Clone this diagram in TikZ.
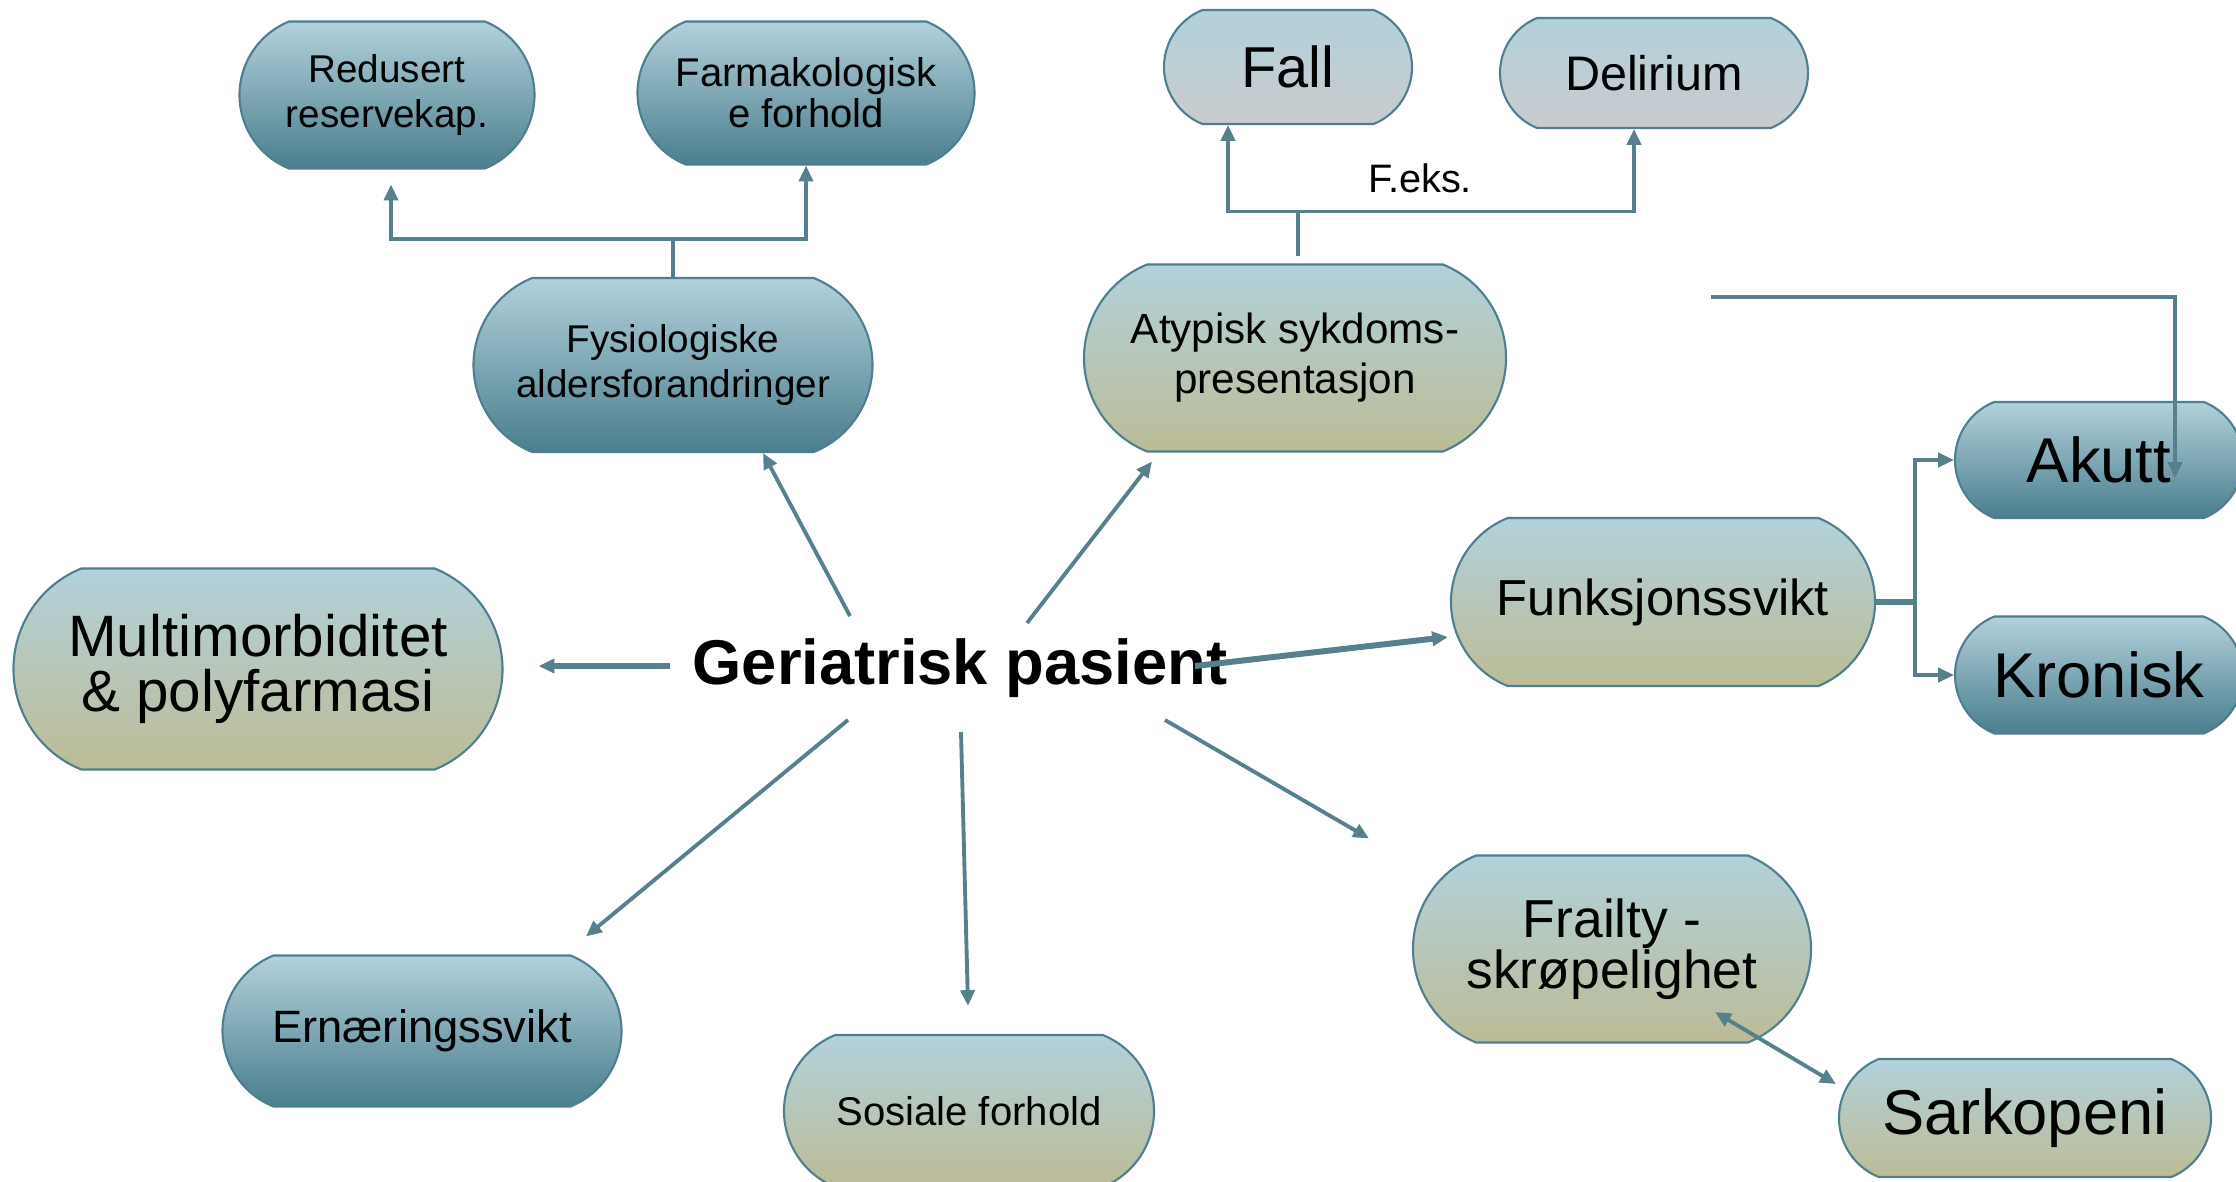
\documentclass[tikz,border=0pt]{standalone}
\usepackage{fontspec}
\setmainfont{Liberation Sans}
\usetikzlibrary{shapes.misc,arrows.meta}

\definecolor{pilltop}{HTML}{B2D1DB}
\definecolor{tealbot}{HTML}{4A7E8E}
\definecolor{olivebot}{HTML}{BCBC96}
\definecolor{greybot}{HTML}{CACBCD}
\definecolor{rimcol}{HTML}{4F7F8E}
\definecolor{linkcol}{HTML}{55808C}

\tikzset{
  pill/.style={rounded rectangle, rounded rectangle arc length=136, draw=rimcol,
    line width=0.6pt, inner sep=0pt, align=center, top color=pilltop},
  link/.style={draw=linkcol, line width=1.1pt},
  fatlink/.style={draw=linkcol, line width=1.7pt},
  >={Triangle[length=4.5pt,width=4pt]}
}

\begin{document}
\begin{tikzpicture}[x=0.01cm, y=-0.01cm]
  \useasboundingbox (0,0) rectangle (2236,1182);

  % boxes: name/x/y/width/height/shade/size/skip/text
  \foreach \nm/\cx/\cy/\w/\h/\col/\fs/\bs/\txt in {
      red/387/95/295/147/tealbot/11/13/{Redusert\\reservekap.},
      farm/806/93/337/143/tealbot/11.4/10.5/{Farmakologisk\\e forhold},
      fys/673/365/399/174/tealbot/11/13/{Fysiologiske\\aldersforandringer},
      fall/1288/67/248/114/greybot/16.4/18/{Fall},
      deli/1654/73/308/110/greybot/13.8/16/{Delirium},
      aty/1295/358/422/187/olivebot/12/14.2/{Atypisk sykdoms-\\presentasjon},
      akutt/2099/460/288/116/tealbot/18/20/{Akutt},
      kron/2099/675/288/117/tealbot/18/20/{Kronisk},
      funk/1663/602/424/168/olivebot/14.4/16/{Funksjonssvikt},
      mult/258/669/489/201/olivebot/16.6/15.8/{Multimorbiditet\\\& polyfarmasi},
      ern/422/1031/399/151/tealbot/12.9/15/{Ernæringssvikt},
      sos/969/1111/370/152/olivebot/11.4/13/{Sosiale forhold},
      frail/1612/949/398/187/olivebot/15.2/14.6/{Frailty -\\skrøpelighet},
      sark/2025/1118/372/118/olivebot/18/20/{Sarkopeni}}{
    \node[pill, bottom color=\col, minimum width=\w*0.01cm, minimum height=\h*0.01cm,
          font=\fontsize{\fs}{\bs}\selectfont] (\nm) at (\cx,\cy) {\txt};
  }

  \node[font=\fontsize{18}{22}\selectfont\bfseries] (gp) at (960,668) {Geriatrisk pasient};
  \node[font=\fontsize{11.3}{13}\selectfont] (feks) at (1420,178) {F.eks.};

  % spokes out of the centre
  \draw[link,->] ([shift={(-110,-52)}]gp.center) -- ([shift={(90,0)}]fys.south);
  \draw[link,->] ([shift={(67,-45)}]gp.center) -- ([shift={(-143,9)}]aty.south);
  \draw[fatlink,->] ([shift={(-290,-2)}]gp.center) -- ([shift={(35,-3)}]mult.east);
  \draw[fatlink,->] ([shift={(235,-2)}]gp.center) -- ([shift={(-2,35)}]funk.west);
  \draw[link,->] ([shift={(-112,52)}]gp.center) -- ([shift={(164,-18)}]ern.north);
  \draw[link,->] ([shift={(1,64)}]gp.center) -- ([shift={(-1,-28)}]sos.north);
  \draw[link,->] ([shift={(205,52)}]gp.center) -- ([shift={(-243,-16)}]frail.north);

  % branches
  \draw[link,->] (fys.north) -- ++(0,-38) -| ([shift={(4,15)}]red.south);
  \draw[link,->] (fys.north) -- ++(0,-38) -| (farm.south);

  \draw[link,->] ([shift={(3,-7)}]aty.north) -- ++(0,-45) -| ([shift={(-60,0)}]fall.south);
  \draw[link,->] ([shift={(3,-7)}]aty.north) -- ++(0,-45) -| ([shift={(-20,0)}]deli.south);

  \coordinate (akin) at (1711,297);
  \draw[link,->] (akin) -| ([shift={(76,18)}]akutt.center);

  \draw[fatlink] (funk.east) -- ++(39,0) coordinate (fj);
  \draw[link,->] (fj) |- (akutt.west);
  \draw[link,->] (fj) |- (kron.west);

  \draw[link,<->] ([shift={(103,63)}]frail.center) -- ([shift={(-2,-34)}]sark.west);
\end{tikzpicture}
\end{document}
